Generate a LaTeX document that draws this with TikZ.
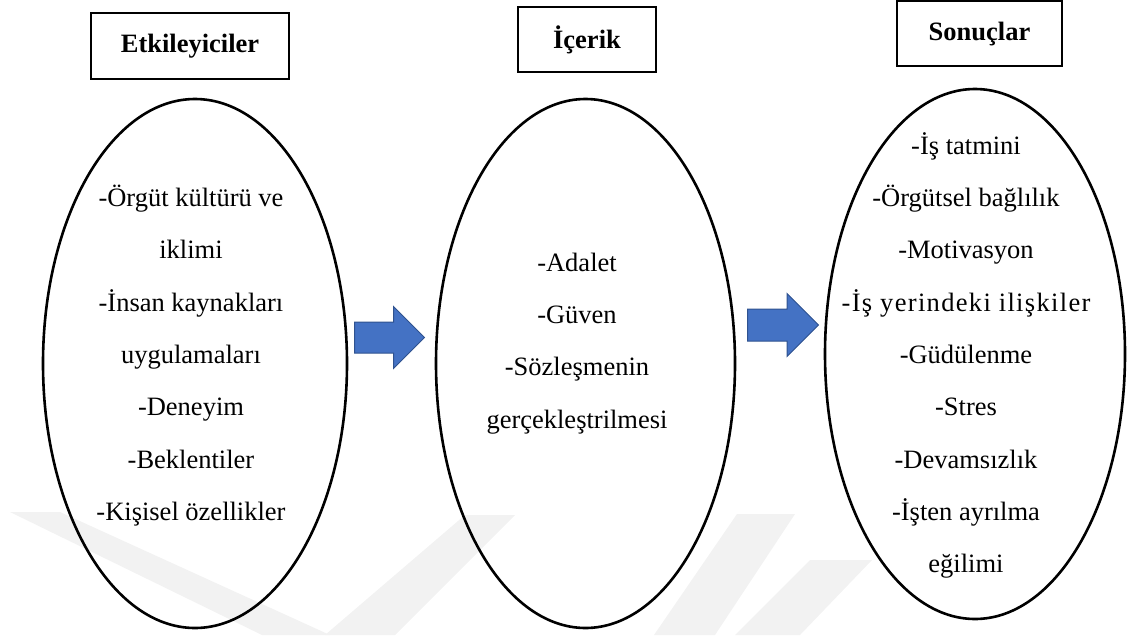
\documentclass[tikz,border=0pt]{standalone}
\usepackage{fontspec}
\setmainfont{Liberation Serif}
\usetikzlibrary{positioning,shapes.geometric,shapes.arrows}
\definecolor{okmavi}{HTML}{4472C4}
\definecolor{okkenar}{HTML}{2F528F}

\begin{document}
\begin{tikzpicture}[
  x=1pt,y=-1pt,
  font=\fontsize{26.5}{52.3}\selectfont,
  baslik/.style={draw,line width=1.3pt,inner sep=0pt,font=\fontsize{26.5}{32}\selectfont\bfseries},
  oval/.style={draw,ellipse,line width=2.6pt,inner sep=0pt},
  liste/.style={align=center,inner sep=0pt},
  blok/.style={single arrow,draw=okkenar,fill=okmavi,line width=1pt,inner xsep=0pt,inner ysep=15pt,single arrow head extend=15.5pt,anchor=tail},
  iz/.style={fill=black!5,draw=none}
]
\useasboundingbox (0,0) rectangle (1129,635);

% filigran
\fill[iz] (10,512) -- (60,512) -- (330,635) -- (262,635) -- cycle;
\fill[iz] (325,635) -- (395,635) -- (515,515) -- (465,515) -- cycle;
\fill[iz] (654,635) -- (715,635) -- (795,514) -- (737,514) -- cycle;
\fill[iz] (735,635) -- (800,635) -- (872,560) -- (810,560) -- cycle;

\node[oval,minimum width=304pt,minimum height=529pt] (e1) at (195,363.5) {};
\node[oval,minimum width=299pt,minimum height=529pt] (e2) at (585.5,363.5) {};
\node[oval,minimum width=300pt,minimum height=530pt] (e3) at (975,354) {};

\node[baslik,minimum width=198pt,minimum height=66pt,above=18pt of e1,xshift=-5pt] (b1) {Etkileyiciler};
\node[baslik,minimum width=138pt,minimum height=65pt,above=25pt of e2,xshift=1.5pt] (b2) {İçerik};
\node[baslik,minimum width=165pt,minimum height=65pt,above=21pt of e3,xshift=4.5pt] (b3) {Sonuçlar};

\node[liste] (l1) at ([xshift=-4pt,yshift=8pt]e1.center) {-Örgüt kültürü ve\\iklimi\\-İnsan kaynakları\\uygulamaları\\-Deneyim\\-Beklentiler\\-Kişisel özellikler};
\node[liste] (l2) at ([xshift=-8.5pt,yshift=20pt]e2.center) {-Adalet\\-Güven\\-Sözleşmenin\\gerçekleştrilmesi};
\node[liste] (l3) at ([xshift=-9pt,yshift=-1.5pt]e3.center) {-İş tatmini\\-Örgütsel bağlılık\\-Motivasyon\\{\addfontfeature{LetterSpace=5}-İş yerindeki ilişkiler}\\-Güdülenme\\-Stres\\-Devamsızlık\\-İşten ayrılma\\eğilimi};

\node[blok,minimum height=70pt] (o1) at (354,337.5) {};
\node[blok,minimum height=71pt,inner ysep=15.5pt] (o2) at (747,325) {};
\end{tikzpicture}
\end{document}
